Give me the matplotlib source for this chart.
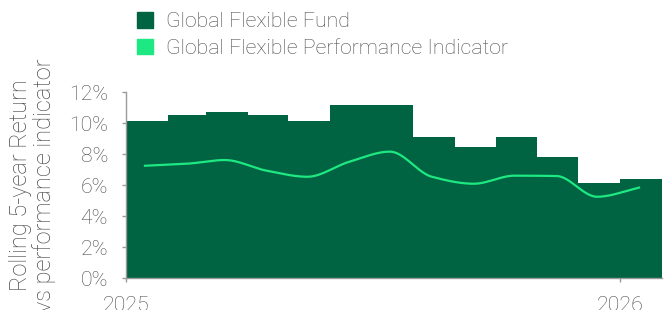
import numpy as np
import pandas as pd
import matplotlib
matplotlib.use("Agg")
import matplotlib.pyplot as plt
from matplotlib.patches import Patch
import matplotlib.dates as mdates
from matplotlib.ticker import FuncFormatter

# ---- data ----
months = pd.date_range("2025-01-01", periods=13, freq="MS")
fund = [10.13, 10.52, 10.76, 10.52, 10.13, 11.18, 11.18, 9.10, 8.47, 9.10, 7.80, 6.15, 6.40]
indicator = [7.26, 7.39, 7.63, 6.94, 6.55, 7.52, 8.17, 6.55, 6.10, 6.62, 6.60, 5.26, 5.85]
year_ticks = ["2025", "2026"]
series_names = ["Global Flexible Fund", "Global Flexible Performance Indicator"]

FUND_C = "#006341"
IND_C = "#1ee882"
TXT_C = "#4a4a4a"
AX_C = "#9a9a9a"

plt.rcParams["font.family"] = ["Roboto Light", "Roboto", "DejaVu Sans"]
plt.rcParams["font.weight"] = "light"
plt.rcParams["axes.labelweight"] = "light"
FS = 15.3
LFS = 17


def monotone_curve(x, y, n=40):
    """Monotone cubic (Fritsch-Carlson) rendering of the line through data points."""
    x = np.asarray(x, float); y = np.asarray(y, float)
    h = np.diff(x); d = np.diff(y) / h
    m = np.zeros_like(y)
    m[0], m[-1] = d[0], d[-1]
    for i in range(1, len(y) - 1):
        if d[i - 1] * d[i] <= 0:
            m[i] = 0
        else:
            w1 = 2 * h[i] + h[i - 1]; w2 = h[i] + 2 * h[i - 1]
            m[i] = (w1 + w2) / (w1 / d[i - 1] + w2 / d[i])
    xs, ys = [], []
    for i in range(len(h)):
        t = np.linspace(0, 1, n, endpoint=(i == len(h) - 1))
        h00 = 2 * t**3 - 3 * t**2 + 1; h10 = t**3 - 2 * t**2 + t
        h01 = -2 * t**3 + 3 * t**2; h11 = t**3 - t**2
        xs.append(x[i] + t * h[i])
        ys.append(h00 * y[i] + h10 * h[i] * m[i] + h01 * y[i + 1] + h11 * h[i] * m[i + 1])
    return np.concatenate(xs), np.concatenate(ys)


fig = plt.figure(figsize=(6.65, 3.10), dpi=100)
ax = fig.add_axes([126 / 665, 0.1023, (662 - 126) / 665, 0.6000])

# step area for fund (monthly buckets)
edges = list(months) + [months[-1] + pd.offsets.MonthBegin(1)]
edge_num = mdates.date2num(edges)
ax.fill_between(edge_num, list(fund) + [fund[-1]], 0, step="post",
                color=FUND_C, linewidth=0, zorder=2)

# indicator line at mid-month
mid = mdates.date2num(months + pd.Timedelta(days=14))
xs, ys = monotone_curve(mid, indicator)
ax.plot(xs, ys, color=IND_C, lw=1.6, zorder=3)

ax.set_xlim(edge_num[0], edge_num[-1])
ax.set_ylim(0, 12)
ax.set_yticks(np.arange(0, 13, 2))
ax.yaxis.set_major_formatter(FuncFormatter(lambda v, p: f"{v:.0f}%"))
ax.set_xticks(mdates.date2num(pd.to_datetime([f"{y}-01-01" for y in year_ticks])))
ax.set_xticklabels(year_ticks)

for s in ["top", "right"]:
    ax.spines[s].set_visible(False)
for s in ["left", "bottom"]:
    ax.spines[s].set_color(AX_C)
    ax.spines[s].set_linewidth(1.0)
ax.tick_params(axis="both", color=AX_C, length=3, width=1.0, labelsize=FS,
               labelcolor=TXT_C, pad=10)

ax.set_ylabel("Rolling 5-year Return\nvs performance indicator", fontsize=LFS,
              color=TXT_C, labelpad=9, linespacing=1.0, fontweight="light")

handles = [Patch(color=FUND_C), Patch(color=IND_C)]
leg = fig.legend(handles, series_names, loc="upper left",
                 bbox_to_anchor=(137 / 665, 1 - 12 / 310), frameon=False,
                 fontsize=FS, handlelength=0.75, handleheight=0.75,
                 handletextpad=0.6, labelspacing=0.35, borderpad=0, borderaxespad=0)
for t in leg.get_texts():
    t.set_color(TXT_C)

fig.savefig("out.png", dpi=100)
